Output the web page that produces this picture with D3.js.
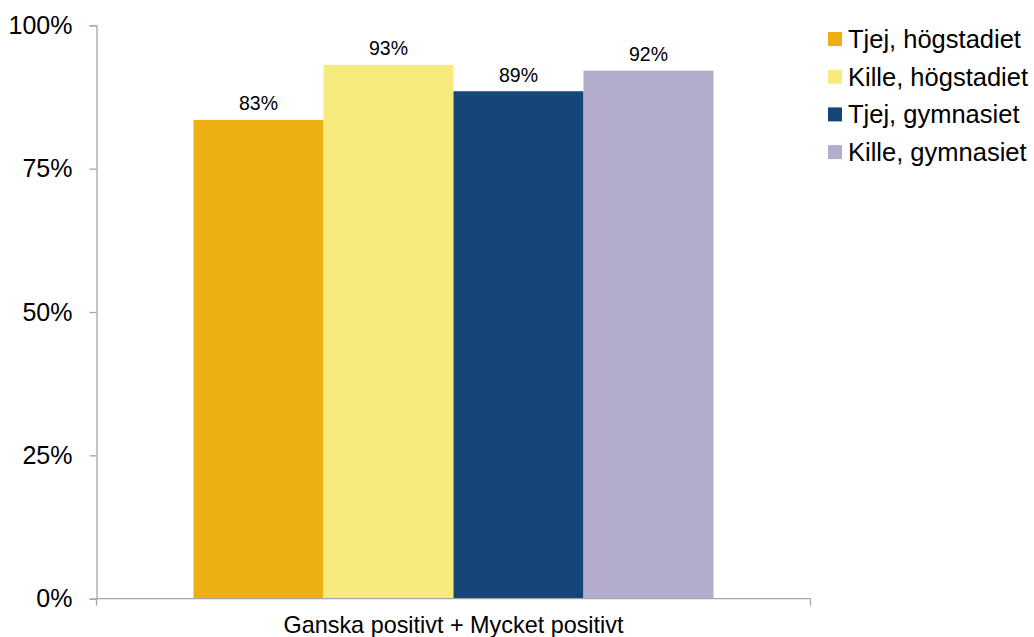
<!DOCTYPE html>
<html>
<head>
<meta charset="utf-8">
<script src="https://cdn.jsdelivr.net/npm/d3@7"></script>
<style>
  body { margin: 0; background: #fff; }
  text { font-family: "Liberation Sans", Arial, sans-serif; fill: #000; }
</style>
</head>
<body>
<script>
// data
var categories = ["Ganska positivt + Mycket positivt"];
var seriesNames = ["Tjej, högstadiet", "Kille, högstadiet", "Tjej, gymnasiet", "Kille, gymnasiet"];
var seriesValues = [0.835, 0.931, 0.885, 0.921];
var valueLabels = ["83%", "93%", "89%", "92%"];
var seriesColors = ["#ECB013", "#F7EB7E", "#164677", "#B3ADCB"];
var yTicks = [0, 0.25, 0.5, 0.75, 1];

var width = 1034, height = 637;
var plotLeft = 96.5, plotRight = 810.5, plotTop = 25.3, plotBottom = 598.7;

var svg = d3.select("body").append("svg")
    .attr("width", width)
    .attr("height", height);

var y = d3.scaleLinear().domain([0, 1]).range([plotBottom, plotTop]);
var x0 = d3.scaleBand().domain(categories).range([plotLeft, plotRight]).paddingInner(0).paddingOuter(0.1865);
var x1 = d3.scaleBand().domain(seriesNames).range([0, x0.bandwidth()]).padding(0);

// y axis
var yAxis = svg.append("g")
    .attr("transform", "translate(" + plotLeft + ",0)")
    .call(d3.axisLeft(y).tickValues(yTicks).tickSize(7).tickPadding(17)
        .tickFormat(function(d){ return Math.round(d * 100) + "%"; }));
yAxis.select(".domain").attr("stroke", "#A6A6A6").attr("stroke-width", 1.3);
yAxis.selectAll(".tick line").attr("stroke", "#A6A6A6").attr("stroke-width", 1.3);
yAxis.selectAll(".tick text")
    .style("font-size", "25px")
    .style("font-family", "Liberation Sans, Arial, sans-serif")
    .attr("fill", "#000");

// bars
var group = svg.append("g")
    .attr("transform", "translate(" + x0(categories[0]) + ",0)");

group.selectAll("rect")
    .data(seriesValues)
    .enter().append("rect")
    .attr("x", function(d, i){ return x1(seriesNames[i]); })
    .attr("y", function(d){ return y(d); })
    .attr("width", x1.bandwidth())
    .attr("height", function(d){ return plotBottom - y(d); })
    .attr("fill", function(d, i){ return seriesColors[i]; });

group.selectAll("text.val")
    .data(seriesValues)
    .enter().append("text")
    .attr("class", "val")
    .attr("x", function(d, i){ return x1(seriesNames[i]) + x1.bandwidth() / 2; })
    .attr("y", function(d){ return y(d) - 9.5; })
    .attr("text-anchor", "middle")
    .style("font-size", "19.5px")
    .text(function(d, i){ return valueLabels[i]; });

// x axis
var xAxis = svg.append("g")
    .attr("transform", "translate(0," + plotBottom + ")");
xAxis.append("line")
    .attr("x1", plotLeft).attr("x2", plotRight)
    .attr("stroke", "#A6A6A6").attr("stroke-width", 1.3);
[plotLeft, plotRight].forEach(function(px){
    xAxis.append("line")
        .attr("x1", px).attr("x2", px).attr("y1", 0).attr("y2", 7)
        .attr("stroke", "#A6A6A6").attr("stroke-width", 1.3);
});
xAxis.append("text")
    .attr("x", x0(categories[0]) + x0.bandwidth() / 2)
    .attr("y", 34.3)
    .attr("text-anchor", "middle")
    .style("font-size", "23.4px")
    .text(categories[0]);

// legend
var legend = svg.append("g").attr("transform", "translate(828,32)");
var items = legend.selectAll("g")
    .data(seriesNames)
    .enter().append("g")
    .attr("transform", function(d, i){ return "translate(0," + (i * 37.7) + ")"; });
items.append("rect")
    .attr("width", 14).attr("height", 14)
    .attr("fill", function(d, i){ return seriesColors[i]; });
items.append("text")
    .attr("x", 20)
    .attr("y", 7)
    .attr("dy", "0.35em")
    .style("font-size", "25.5px")
    .text(function(d){ return d; });
</script>
</body>
</html>
